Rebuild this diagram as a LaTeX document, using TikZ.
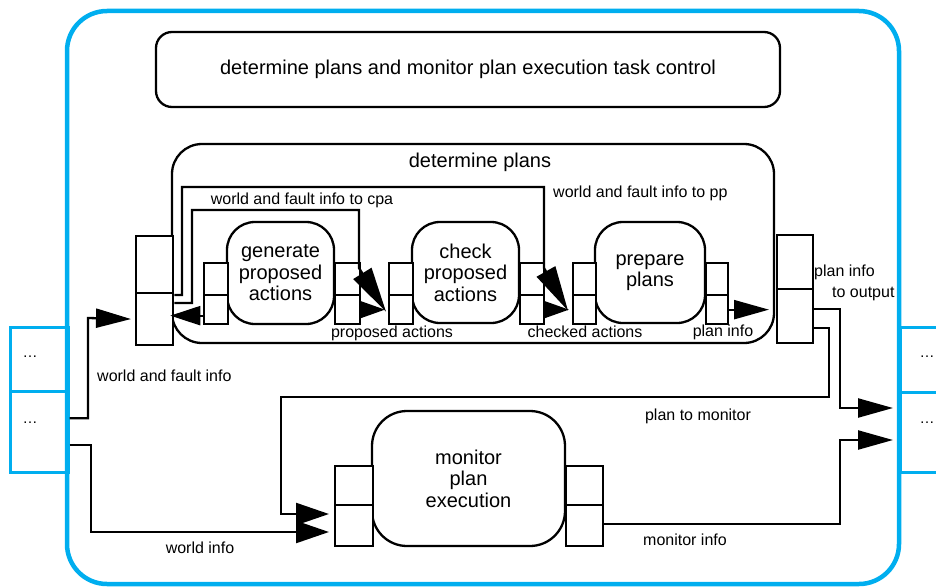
\documentclass[tikz,border=0pt]{standalone}
\usepackage{fontspec}
\setmainfont{Liberation Sans}
\usetikzlibrary{arrows.meta,calc}
\definecolor{cyanline}{RGB}{0,174,239}
\begin{document}
\begin{tikzpicture}[x=1pt,y=-1pt,
 ln/.style={line width=2.3pt},
 proc/.style={draw,line width=2.3pt,rectangle,inner sep=0pt,align=center,font=\fontsize{20}{21.5}\selectfont},
 port/.style={draw,fill=white,line width=2.3pt,rectangle,inner sep=0pt,anchor=north west},
 bigtxt/.style={font=\fontsize{20}{22}\selectfont,inner sep=0pt},
 lbl/.style={font=\fontsize{16}{21}\selectfont,inner sep=0pt},
 arr/.style={ln,-{Triangle[length=35pt,width=19pt]}},
 marr/.style={ln,-{Triangle[length=33pt,width=22pt]}},
 sarr/.style={ln,-{Triangle[length=25pt,width=17pt]}},
 darr/.style={ln,-{Triangle[length=45pt,width=21pt]}},
 ibox/.style={draw=cyanline,line width=2.5pt,rectangle,inner sep=0pt,anchor=north west},
 dots/.style={font=\fontsize{15}{15}\selectfont,inner sep=0pt},
]
\useasboundingbox (0,0) rectangle (936,586);
% input / output boxes
\node[ibox,minimum width=58pt,minimum height=64pt] (in1) at (9,326) {};
\node[ibox,minimum width=58pt,minimum height=81pt] (in2) at (9,390) {};
\node[ibox,minimum width=50pt,minimum height=65pt] (out1) at (899,326) {};
\node[ibox,minimum width=50pt,minimum height=80pt] (out2) at (899,391) {};
% outer frame
\draw[cyanline,line width=4.5pt,rounded corners=40pt] (67,11) rectangle (899,584);
\node[dots] (t1) at (30,357) {…};
\node[dots] (t2) at (30,423) {…};
\node[dots] (t3) at (927,357) {…};
\node[dots] (t4) at (927,423) {…};
% task control
\node[draw,line width=2.3pt,rounded corners=16pt,minimum width=624pt,minimum height=75pt,inner sep=0pt,font=\fontsize{20}{22}\selectfont] (tc) at (468,69.5) {determine plans and monitor plan execution task control};
% determine plans
\node[draw,line width=2.3pt,rounded corners=30pt,minimum width=602pt,minimum height=199pt,inner sep=0pt] (dp) at (473,243.5) {};
\node[bigtxt] (dpt) at (480,162) {determine plans};
% processes
\node[proc,rounded corners=28pt,minimum width=107pt,minimum height=102pt] (gen) at (280.5,273) {generate\\proposed\\actions};
\node[proc,rounded corners=28pt,minimum width=107pt,minimum height=101pt] (chk) at (465.5,272.5) {check\\proposed\\actions};
\node[proc,rounded corners=28pt,minimum width=110pt,minimum height=101pt] (prep) at (650,272.5) {prepare\\plans};
\node[proc,rounded corners=35pt,minimum width=193pt,minimum height=135pt] (mon) at (468.5,478.5) {monitor\\plan\\execution};
% ports
\node[port,minimum width=37pt,minimum height=57pt] (dL1) at (135,235) {};
\node[port,minimum width=37pt,minimum height=52pt] (dL2) at (135,292) {};
\node[port,minimum width=36pt,minimum height=54pt] (dR1) at (776,234) {};
\node[port,minimum width=36pt,minimum height=54pt] (dR2) at (776,288) {};
\node[port,minimum width=24pt,minimum height=32pt] (gL1) at (203,262) {};
\node[port,minimum width=24pt,minimum height=29pt] (gL2) at (203,294) {};
\node[port,minimum width=25pt,minimum height=32pt] (gR1) at (334,262) {};
\node[port,minimum width=25pt,minimum height=29pt] (gR2) at (334,294) {};
\node[port,minimum width=24pt,minimum height=32pt] (cL1) at (388,262) {};
\node[port,minimum width=24pt,minimum height=29pt] (cL2) at (388,294) {};
\node[port,minimum width=24pt,minimum height=32pt] (cR1) at (519,262) {};
\node[port,minimum width=24pt,minimum height=29pt] (cR2) at (519,294) {};
\node[port,minimum width=23pt,minimum height=32pt] (pL1) at (572,262) {};
\node[port,minimum width=23pt,minimum height=29pt] (pL2) at (572,294) {};
\node[port,minimum width=22pt,minimum height=32pt] (pR1) at (705,262) {};
\node[port,minimum width=22pt,minimum height=29pt] (pR2) at (705,294) {};
\node[port,minimum width=38pt,minimum height=39pt] (mL1) at (334,465) {};
\node[port,minimum width=38pt,minimum height=41pt] (mL2) at (334,504) {};
\node[port,minimum width=37pt,minimum height=39pt] (mR1) at (565,465) {};
\node[port,minimum width=37pt,minimum height=41pt] (mR2) at (565,504) {};
% helper coordinates
\coordinate (wi) at (91,532);
\coordinate (ptm) at (281,514);
\coordinate (pio) at (840,408);
\coordinate (mio) at (840,440);
\coordinate (fb) at ($(gL2.west)+(0,6)$);
% outer connectors
\draw[arr,shorten >=4pt] ($(in2.east)+(0,-13.5)$) -| (88,318) -- (dL2.west);
\draw[marr,shorten >=5pt] ($(in2.east)+(0,13.5)$) -| (wi) -- (mL2.west |- wi);
\draw[marr,shorten >=5pt] ($(dR2.east)+(0,11.5)$) -| (829,397) -| (ptm) -- (mL2.west |- ptm);
\draw[arr,shorten >=6pt] ($(dR2.east)+(0,-7.5)$) -| (pio) -- (out2.west |- pio);
\draw[arr,shorten >=6pt] ($(mR2.east)+(0,-2)$) -| (mio) -- (out2.west |- mio);
% inner connectors
\draw[sarr,shorten >=3pt] (gR2.east) -- (cL2.west);
\draw[sarr,shorten >=3pt] (cR2.east) -- (pL2.west);
\draw[arr,shorten >=7pt] (pR2.east) -- (pR2.east -| dR2.west);
\draw[ln,-{Triangle[length=30pt,width=19pt]},shorten >=-4pt] (fb) -- (fb -| dL2.east);
\draw[darr] ($(dL2.north east)+(0,11)$) -| (192,210) -| (359,268) -- ($(cL2.west)+(-2,2)$);
\draw[darr] ($(dL2.north east)+(0,3)$) -| (182,187) -| (544,268) -- ($(pL2.west)+(-4,1)$);
% labels
\node[lbl] (l1) at (302,200) {world and fault info to cpa};
\node[lbl,anchor=west] (l2) at (553,193) {world and fault info to pp};
\node[lbl] (l3) at (392,333) {proposed actions};
\node[lbl] (l4) at (585,332) {checked actions};
\node[lbl] (l5) at (723,332) {plan info};
\node[lbl,anchor=west] (l6) at (97,376) {world and fault info};
\node[lbl] (l7) at (200,548) {world info};
\node[lbl] (l8) at (698,416) {plan to monitor};
\node[lbl] (l9) at (685,540) {monitor info};
\node[lbl,align=left,anchor=west] (l10) at (814,283) {plan info\\\hspace*{18pt}to output};
\end{tikzpicture}
\end{document}
